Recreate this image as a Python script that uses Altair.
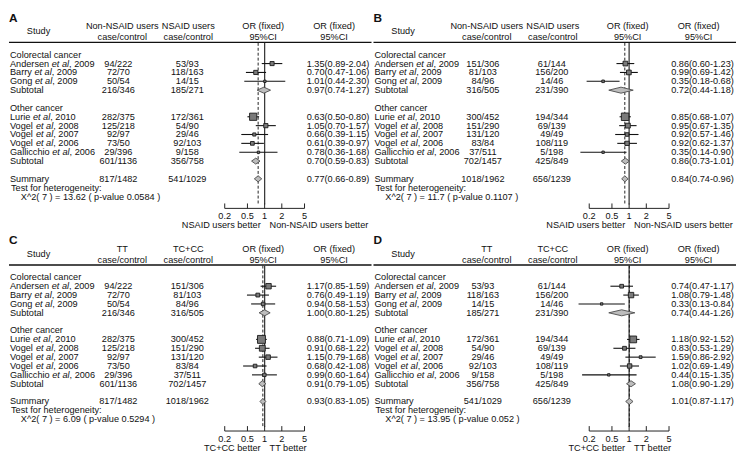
import math
import altair as alt
import pandas as pd

FONT = "Liberation Sans"
FS = 9.3
PW, PH = 368, 225

# ---------------- shared row structure ----------------
label_texts = ["Colorectal cancer", "Andersen et al, 2009", "Barry et al, 2009", "Gong et al, 2009",
               "Subtotal", "Other cancer", "Lurie et al, 2010", "Vogel et al, 2008", "Vogel et al, 2007",
               "Vogel et al, 2006", "Gallicchio et al, 2006", "Subtotal", "Summary"]
label_rows = [0, 1, 2, 3, 4, 6, 7, 8, 9, 10, 11, 12, 14]
value_rows = [1, 2, 3, 4, 7, 8, 9, 10, 11, 12, 14]
value_kind = ["study", "study", "study", "sub", "study", "study", "study", "study", "study", "sub", "sum"]
het_title = "Test for heterogeneity:"
tick_vals = [0.2, 0.5, 1, 2, 5]
tick_labels = ["0.2", "0.5", "1", "2", "5"]

# ---------------- panel A ----------------
a_h2 = "Non-NSAID users"
a_h3 = "NSAID users"
a_col2 = ["94/222", "72/70", "50/54", "216/346", "282/375", "125/218", "92/97", "73/50", "29/396", "601/1136", "817/1482"]
a_col3 = ["53/93", "118/163", "14/15", "185/271", "172/361", "54/90", "29/46", "92/103", "9/158", "356/758", "541/1029"]
a_est = [1.35, 0.70, 1.01, 0.97, 0.63, 1.05, 0.66, 0.61, 0.78, 0.70, 0.77]
a_lo = [0.89, 0.47, 0.44, 0.74, 0.50, 0.70, 0.39, 0.39, 0.36, 0.59, 0.66]
a_hi = [2.04, 1.06, 2.30, 1.27, 0.80, 1.57, 1.15, 0.97, 1.68, 0.83, 0.89]
a_het = "X^2( 7 ) = 13.62 ( p-value 0.0584 )"
a_lb, a_rb = "NSAID users better", "Non-NSAID users better"

# ---------------- panel B ----------------
b_h2 = "Non-NSAID users"
b_h3 = "NSAID users"
b_col2 = ["151/306", "81/103", "84/96", "316/505", "300/452", "151/290", "131/120", "83/84", "37/511", "702/1457", "1018/1962"]
b_col3 = ["61/144", "156/200", "14/46", "231/390", "194/344", "69/139", "49/49", "108/119", "5/198", "425/849", "656/1239"]
b_est = [0.86, 0.99, 0.35, 0.72, 0.85, 0.95, 0.92, 0.92, 0.35, 0.86, 0.84]
b_lo = [0.60, 0.69, 0.18, 0.44, 0.68, 0.67, 0.57, 0.62, 0.14, 0.73, 0.74]
b_hi = [1.23, 1.42, 0.68, 1.18, 1.07, 1.35, 1.46, 1.37, 0.90, 1.01, 0.96]
b_het = "X^2( 7 ) = 11.7 ( p-value 0.1107 )"
b_lb, b_rb = "NSAID users better", "Non-NSAID users better"

# ---------------- panel C ----------------
c_h2 = "TT"
c_h3 = "TC+CC"
c_col2 = ["94/222", "72/70", "50/54", "216/346", "282/375", "125/218", "92/97", "73/50", "29/396", "601/1136", "817/1482"]
c_col3 = ["151/306", "81/103", "84/96", "316/505", "300/452", "151/290", "131/120", "83/84", "37/511", "702/1457", "1018/1962"]
c_est = [1.17, 0.76, 0.94, 1.00, 0.88, 0.91, 1.15, 0.68, 0.99, 0.91, 0.93]
c_lo = [0.85, 0.49, 0.58, 0.80, 0.71, 0.68, 0.79, 0.42, 0.60, 0.79, 0.83]
c_hi = [1.59, 1.19, 1.53, 1.25, 1.09, 1.22, 1.68, 1.08, 1.64, 1.05, 1.05]
c_het = "X^2( 7 ) = 6.09 ( p-value 0.5294 )"
c_lb, c_rb = "TC+CC better", "TT better"

# ---------------- panel D ----------------
d_h2 = "TT"
d_h3 = "TC+CC"
d_col2 = ["53/93", "118/163", "14/15", "185/271", "172/361", "54/90", "29/46", "92/103", "9/158", "356/758", "541/1029"]
d_col3 = ["61/144", "156/200", "14/46", "231/390", "194/344", "69/139", "49/49", "108/119", "5/198", "425/849", "656/1239"]
d_est = [0.74, 1.08, 0.33, 0.74, 1.18, 0.83, 1.59, 1.02, 0.44, 1.08, 1.01]
d_lo = [0.47, 0.79, 0.13, 0.44, 0.92, 0.53, 0.86, 0.69, 0.15, 0.90, 0.87]
d_hi = [1.17, 1.48, 0.84, 1.26, 1.52, 1.29, 2.92, 1.49, 1.35, 1.29, 1.17]
d_het = "X^2( 7 ) = 13.95 ( p-value 0.052 )"
d_lb, d_rb = "TC+CC better", "TT better"

# Arial-compatible advance widths (per 1000 em) for placing the italic "et al"
W = {' ': 278, ',': 278, 'A': 667, 'B': 667, 'G': 778, 'L': 556, 'V': 667,
     'a': 556, 'c': 500, 'd': 556, 'e': 556, 'g': 556, 'h': 556, 'i': 222, 'l': 222,
     'n': 556, 'o': 556, 'r': 333, 's': 500, 't': 278, 'u': 556, 'y': 500}


def tw(s, fs=FS):
    return sum(W.get(ch, 556) for ch in s) * fs / 1000.0


XS = alt.Scale(type="log", domain=[0.2, 5], range=[219, 300])
YS = alt.Scale(domain=[0, 16], range=[43, 187], nice=False, zero=False)


def ytxt():
    return alt.Y("row:Q", scale=YS, axis=None)


def text_layer(df, x, field, align="left", italic=False, size=FS, weight="normal"):
    return alt.Chart(df).mark_text(align=align, baseline="middle", font=FONT, fontSize=size,
                                   fontStyle="italic" if italic else "normal", fontWeight=weight,
                                   color="#111").encode(
        x=alt.value(x), y=ytxt(), text=alt.Text(field + ":N"))


def fixed_text(t, x, y, align="center", size=FS, weight="normal", baseline="middle"):
    return alt.Chart(pd.DataFrame({"t": [t]})).mark_text(
        align=align, baseline=baseline, font=FONT, fontSize=size, fontWeight=weight, color="#111").encode(
        x=alt.value(x), y=alt.value(y), text="t:N")


def panel(letter, h2, h3, col2, col3, est, lo, hi, het, lb, rb):
    layers = []
    layers.append(fixed_text(letter, 0, 9.5, align="left", size=12, weight="bold", baseline="alphabetic"))
    # header
    layers.append(fixed_text("Study", 30, 19))
    layers.append(fixed_text(h2, 115, 14))
    layers.append(fixed_text("case/control", 115, 25))
    layers.append(fixed_text(h3, 182, 14))
    layers.append(fixed_text("case/control", 182, 25))
    layers.append(fixed_text("OR (fixed)", 258, 14))
    layers.append(fixed_text("95%CI", 258, 25))
    layers.append(fixed_text("OR (fixed)", 330, 14))
    layers.append(fixed_text("95%CI", 330, 25))
    layers.append(alt.Chart(pd.DataFrame({"a": [0]})).mark_rule(color="#111", strokeWidth=1.4).encode(
        x=alt.value(0), x2=alt.value(PW), y=alt.value(30.5)))

    # row labels
    plain, etal = [], []
    for r, t in zip(label_rows, label_texts):
        if " et al" in t:
            au, rest = t.split(" et al")
            etal.append({"row": r, "au": au, "et": "et al", "rest": rest})
        else:
            plain.append({"row": r, "lab": t})
    layers.append(text_layer(pd.DataFrame(plain), 1, "lab"))
    edf = pd.DataFrame(etal)
    layers.append(text_layer(edf, 1, "au"))
    for au, g in edf.groupby("au", sort=False):
        x_et = 1 + tw(au + " ")
        layers.append(text_layer(g, x_et, "et", italic=True))
        layers.append(text_layer(g, x_et + tw("et al"), "rest"))

    vdf = pd.DataFrame({"row": value_rows, "kind": value_kind, "c2": col2, "c3": col3,
                        "est": est, "lo": lo, "hi": hi,
                        "ort": ["%.2f(%.2f-%.2f)" % (e, l, h) for e, l, h in zip(est, lo, hi)]})
    layers.append(text_layer(vdf, 111, "c2", align="center"))
    layers.append(text_layer(vdf, 181, "c3", align="center"))
    layers.append(text_layer(vdf, 334, "ort", align="center"))

    hdf = pd.DataFrame({"row": [15, 16], "t": [het_title, het]})
    layers.append(text_layer(hdf.iloc[[0]], 2, "t"))
    layers.append(text_layer(hdf.iloc[[1]], 12, "t"))

    # reference lines
    layers.append(alt.Chart(pd.DataFrame({"v": [1.0]})).mark_rule(color="#3a3a3a", strokeWidth=1.3).encode(
        x=alt.X("v:Q", scale=XS, axis=None), y=alt.value(31), y2=alt.value(195)))
    layers.append(alt.Chart(pd.DataFrame({"v": [est[-1]]})).mark_rule(
        color="#222", strokeWidth=1, strokeDash=[3, 2]).encode(
        x=alt.X("v:Q", scale=XS, axis=None), y=alt.value(31), y2=alt.value(195)))

    # study CIs and boxes
    sdf = vdf[vdf["kind"] == "study"].copy()
    se = (sdf["hi"].apply(math.log) - sdf["lo"].apply(math.log)) / (2 * 1.96)
    sdf["sz"] = ((0.88 / se).clip(lower=2.4)) ** 2
    layers.append(alt.Chart(sdf).mark_rule(color="#111", strokeWidth=1.1).encode(
        x=alt.X("lo:Q", scale=XS, axis=None), x2="hi:Q", y=ytxt()))
    layers.append(alt.Chart(sdf).mark_square(fill="#7a7a7a", stroke="#1a1a1a", strokeWidth=0.9, opacity=1).encode(
        x=alt.X("est:Q", scale=XS, axis=None), y=ytxt(), size=alt.Size("sz:Q", scale=None)))

    # diamonds
    recs = []
    for i, rr in vdf[vdf["kind"] != "study"].iterrows():
        recs.append({"d": i, "xv": rr["lo"], "ya": rr["row"], "yb": rr["row"]})
        recs.append({"d": i, "xv": rr["est"], "ya": rr["row"] - 0.34, "yb": rr["row"] + 0.34})
        recs.append({"d": i, "xv": rr["hi"], "ya": rr["row"], "yb": rr["row"]})
    ddf = pd.DataFrame(recs)
    layers.append(alt.Chart(ddf).mark_area(fill="#bdbdbd", stroke="#4a4a4a", strokeWidth=0.9, opacity=1,
                                           interpolate="linear").encode(
        x=alt.X("xv:Q", scale=XS, axis=None),
        y=alt.Y("ya:Q", scale=YS, axis=None, stack=None), y2="yb:Q", detail="d:N"))

    # axis
    tdf = pd.DataFrame({"t": tick_vals, "lab": tick_labels})
    layers.append(alt.Chart(pd.DataFrame({"a": [tick_vals[0]], "b": [tick_vals[-1]]})).mark_rule(
        color="#222", strokeWidth=1).encode(
        x=alt.X("a:Q", scale=XS, axis=None), x2="b:Q", y=alt.value(199)))
    layers.append(alt.Chart(tdf).mark_rule(color="#222", strokeWidth=1).encode(
        x=alt.X("t:Q", scale=XS, axis=None), y=alt.value(194), y2=alt.value(199)))
    layers.append(alt.Chart(tdf).mark_text(font=FONT, fontSize=FS, baseline="middle", color="#111").encode(
        x=alt.X("t:Q", scale=XS, axis=None), y=alt.value(207), text="lab:N"))
    bdf = pd.DataFrame({"v": [1.0], "l": [lb], "r": [rb]})
    layers.append(alt.Chart(bdf).mark_text(font=FONT, fontSize=FS, baseline="middle", align="right", dx=-4,
                                           color="#111").encode(
        x=alt.X("v:Q", scale=XS, axis=None), y=alt.value(216), text="l:N"))
    layers.append(alt.Chart(bdf).mark_text(font=FONT, fontSize=FS, baseline="middle", align="left", dx=5,
                                           color="#111").encode(
        x=alt.X("v:Q", scale=XS, axis=None), y=alt.value(216), text="r:N"))

    return alt.layer(*layers).properties(width=PW, height=PH)


pA = panel("A", a_h2, a_h3, a_col2, a_col3, a_est, a_lo, a_hi, a_het, a_lb, a_rb)
pB = panel("B", b_h2, b_h3, b_col2, b_col3, b_est, b_lo, b_hi, b_het, b_lb, b_rb)
pC = panel("C", c_h2, c_h3, c_col2, c_col3, c_est, c_lo, c_hi, c_het, c_lb, c_rb)
pD = panel("D", d_h2, d_h3, d_col2, d_col3, d_est, d_lo, d_hi, d_het, d_lb, d_rb)

chart = alt.vconcat(
    alt.hconcat(pA, pB, spacing=0),
    alt.hconcat(pC, pD, spacing=0),
    spacing=0,
).properties(padding=0, background="white").configure_view(stroke=None)

chart.save("out.html", embed_options={"renderer": "svg", "actions": False})
